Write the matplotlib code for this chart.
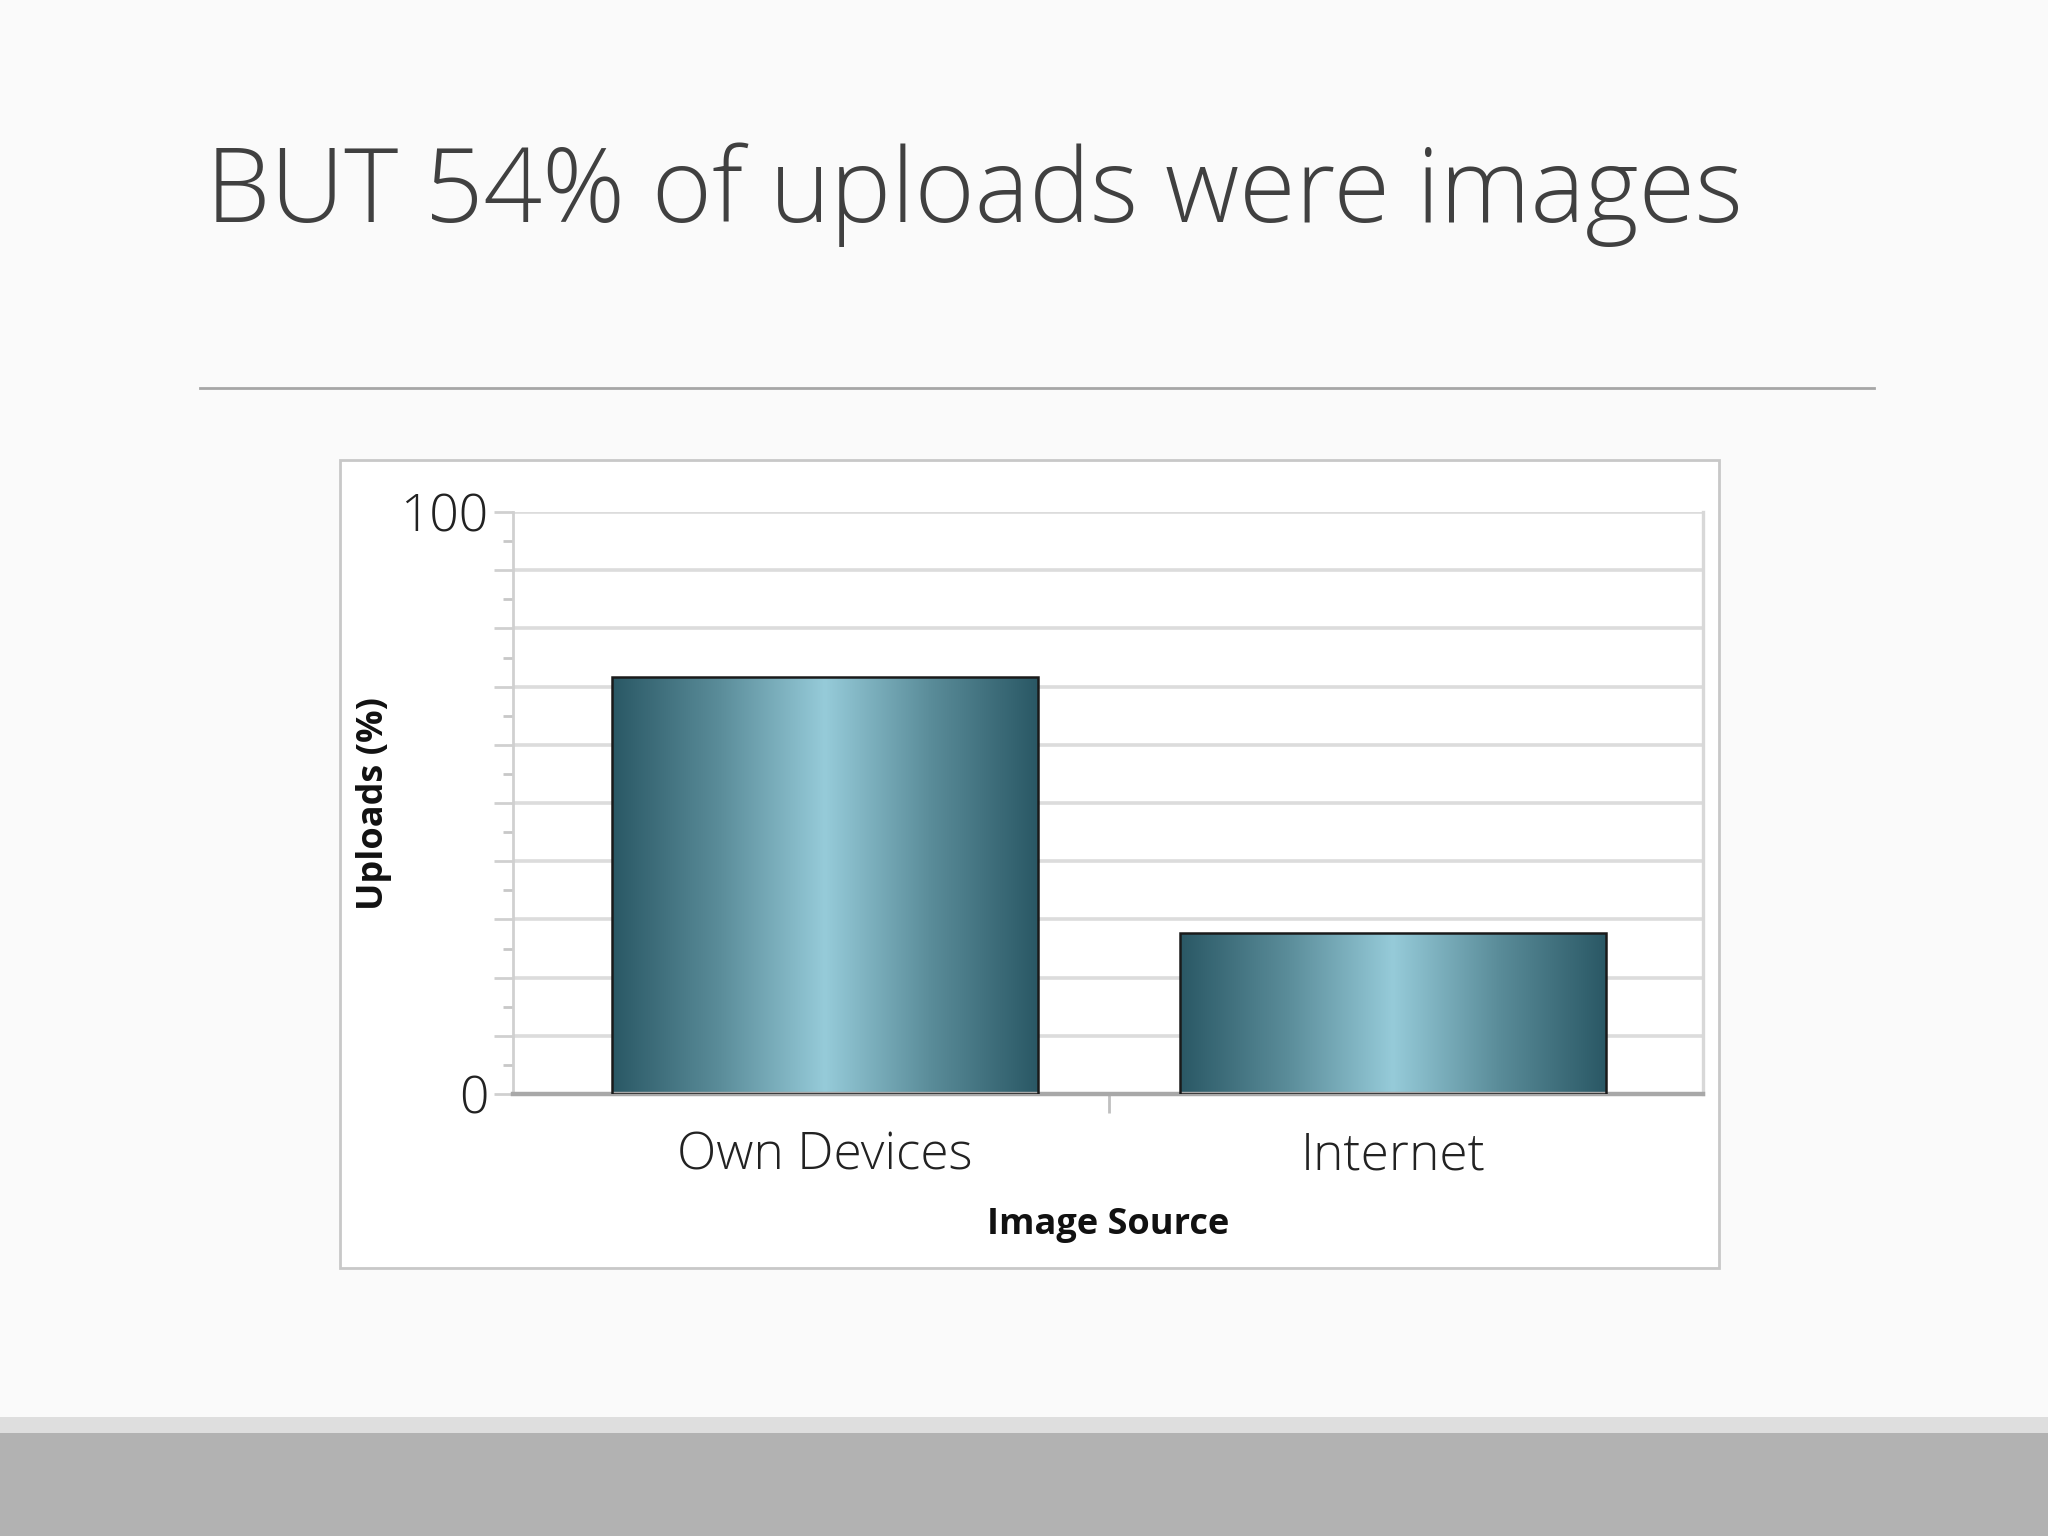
import numpy as np
import matplotlib
matplotlib.use("Agg")
import matplotlib.pyplot as plt
from matplotlib.patches import Rectangle
from matplotlib.lines import Line2D
from matplotlib.colors import LinearSegmentedColormap

# ---- data ----
categories = ["Own Devices", "Internet"]
uploads_pct = [71.7, 27.6]
y_tick_labels = ["0", "100"]
title = "BUT 54% of uploads were images"
x_label = "Image Source"
y_label = "Uploads (%)"

W, H = 2048, 1536
DPI = 200
fig = plt.figure(figsize=(W / DPI, H / DPI), dpi=DPI)
fig.patch.set_facecolor("#fafafa")

def fx(px):
    return px / W

def fy(py):
    return 1 - py / H

# bottom strips
fig.add_artist(Rectangle((0, 0), 1, fy(1433), transform=fig.transFigure,
                         facecolor="#b2b2b2", edgecolor="none", zorder=0))
fig.add_artist(Rectangle((0, fy(1433)), 1, fy(1417) - fy(1433), transform=fig.transFigure,
                         facecolor="#dedede", edgecolor="none", zorder=0))

# title
fig.text(fx(206), fy(222), title, fontsize=37, color="#404040",
         family="Open Sans", fontweight="light", va="baseline", ha="left")

# separator line
fig.add_artist(Line2D([fx(200), fx(1874)], [fy(388), fy(388)], transform=fig.transFigure,
                      color="#a6a6a6", lw=1.0))

# chart frame
fig.add_artist(Rectangle((fx(340), fy(1268)), fx(1719) - fx(340), fy(460) - fy(1268),
                         transform=fig.transFigure, facecolor="white",
                         edgecolor="#c8c8c8", lw=1.0, zorder=0.5))

ax = fig.add_axes([fx(513), fy(1094), fx(1703) - fx(513), fy(512) - fy(1094)])
ax.set_facecolor("white")
ax.set_zorder(1)

x = np.arange(len(categories))
bars = ax.bar(x, uploads_pct, width=0.75, color="none", edgecolor="#1a1a1a",
              linewidth=0.9, zorder=3)

cmap = LinearSegmentedColormap.from_list(
    "teal", [(0.0, "#2a5865"), (0.25, "#5a8c99"), (0.5, "#96cbd9"),
             (0.75, "#5a8c99"), (1.0, "#2a5865")])
grad = np.linspace(0, 1, 256).reshape(1, -1)
for b in bars:
    x0, y0 = b.get_x(), b.get_y()
    w, h = b.get_width(), b.get_height()
    im = ax.imshow(grad, cmap=cmap, extent=[x0, x0 + w, y0, y0 + h],
                   aspect="auto", zorder=2, interpolation="bilinear")
    im.set_clip_path(b)

ax.set_xlim(-0.55, 1.546)
ax.set_ylim(0, 100)

# grid
ax.set_yticks(np.arange(0, 101, 10))
ax.set_yticks(np.arange(5, 100, 10), minor=True)
ax.yaxis.grid(True, which="major", color="#dcdcdc", lw=1.3, zorder=1)
ax.set_yticklabels([y_tick_labels[0]] + [""] * 9 + [y_tick_labels[1]])
ax.tick_params(axis="y", which="major", length=7, width=1.0, color="#d0d0d0",
               labelsize=18.5, labelcolor="#222222", pad=2)
ax.tick_params(axis="y", which="minor", length=3.5, width=1.0, color="#c8c8c8")
for t in ax.get_yticklabels():
    t.set_family("Open Sans")
    t.set_fontweight("light")

ax.set_xticks(x)
ax.set_xticklabels(categories, fontsize=18.5, color="#222222",
                   family="Open Sans", fontweight="light")
ax.tick_params(axis="x", which="major", length=0, pad=13)
ax.set_xticks([0.5], minor=True)
ax.tick_params(axis="x", which="minor", length=7, width=1.0, color="#c0c0c0")

ax.spines["top"].set_visible(False)
ax.spines["left"].set_color("#d0d0d0")
ax.spines["left"].set_linewidth(1.0)
ax.spines["right"].set_color("#d8d8d8")
ax.spines["right"].set_linewidth(1.2)
ax.spines["bottom"].set_color("#a8a8a8")
ax.spines["bottom"].set_linewidth(1.6)

ax.set_xlabel(x_label, fontsize=13, fontweight="bold", color="#111111",
              family="Open Sans", labelpad=9)
ax.set_ylabel(y_label, fontsize=13, fontweight="bold", color="#111111",
              family="Open Sans")
ax.yaxis.label.set_va("center")
ax.yaxis.set_label_coords(-0.117, 0.5)

fig.savefig("out.png", dpi=DPI, facecolor=fig.get_facecolor())
